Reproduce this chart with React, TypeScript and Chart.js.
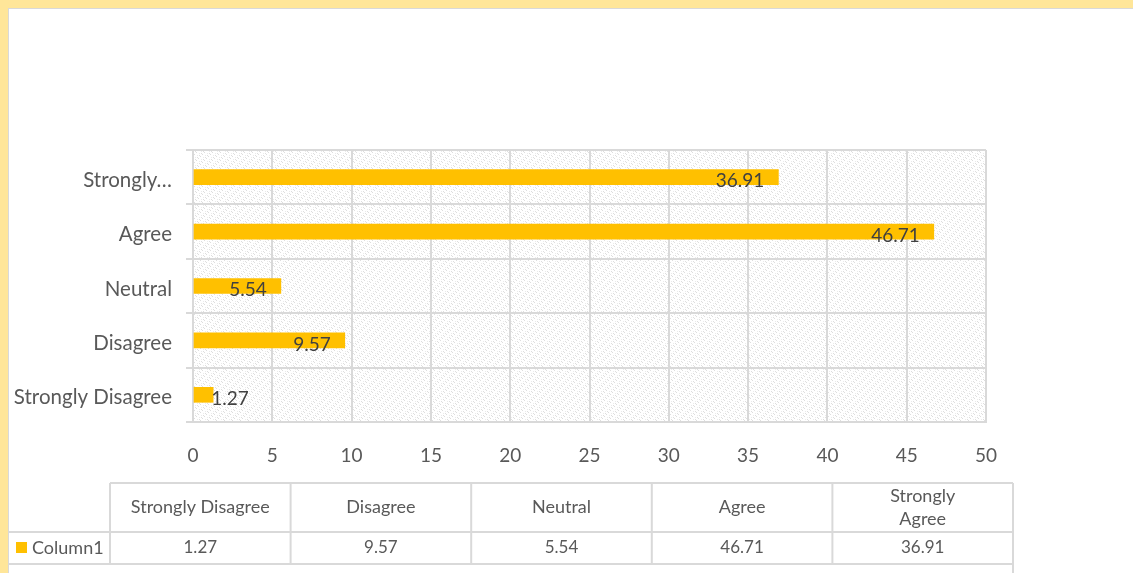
import React, { useEffect, useRef } from "react";
import { Chart, registerables } from "chart.js";

Chart.register(...registerables);

const categories = ["Strongly Disagree", "Disagree", "Neutral", "Agree", "Strongly Agree"];
const axisLabels = ["Strongly Disagree", "Disagree", "Neutral", "Agree", "Strongly…"];
const tableHeaders = [["Strongly Disagree"], ["Disagree"], ["Neutral"], ["Agree"], ["Strongly", "Agree"]];
const seriesName = "Column1";
const seriesValues = [1.27, 9.57, 5.54, 46.71, 36.91];
const valueLabels = ["1.27", "9.57", "5.54", "46.71", "36.91"];
const xTicks = [0, 5, 10, 15, 20, 25, 30, 35, 40, 45, 50];

const FONT = "Lato, 'Open Sans', sans-serif";
const BAR = "#FFC000";
const GRID = "#d9d9d9";

function makePattern(ctx: CanvasRenderingContext2D) {
  const c = document.createElement("canvas");
  c.width = 8;
  c.height = 8;
  const p = c.getContext("2d")!;
  p.fillStyle = "#ffffff";
  p.fillRect(0, 0, 8, 8);
  for (let y = 0; y < 8; y++) {
    for (let x = 0; x < 8; x++) {
      if (((x - y + 16) % 4 === 0) && ((x + y) % 8 < 4)) {
        p.fillStyle = "#dedede";
        p.fillRect(x, y, 1, 1);
      } else if (((x + y) % 8 === 6) && ((x - y + 16) % 4 === 2)) {
        p.fillStyle = "#ebebeb";
        p.fillRect(x, y, 1, 1);
      }
    }
  }
  return ctx.createPattern(c, "repeat");
}

const bgPlugin = {
  id: "plotBg",
  beforeDraw(chart: any) {
    const { ctx, chartArea } = chart;
    const pat = makePattern(ctx);
    ctx.save();
    ctx.fillStyle = pat || "#f2f2f2";
    ctx.fillRect(chartArea.left, chartArea.top, chartArea.right - chartArea.left, chartArea.bottom - chartArea.top);
    ctx.restore();
  },
};

const labelPlugin = {
  id: "valueLabels",
  afterDatasetsDraw(chart: any) {
    const { ctx } = chart;
    const meta = chart.getDatasetMeta(0);
    ctx.save();
    ctx.font = `19px ${FONT}`;
    ctx.fillStyle = "#404040";
    ctx.textBaseline = "middle";
    meta.data.forEach((bar: any, i: number) => {
      const txt = valueLabels[i];
      const w = ctx.measureText(txt).width;
      const barW = bar.x - bar.base;
      if (barW > w + 20) {
        ctx.textAlign = "right";
        ctx.fillText(txt, bar.x - 14, bar.y + 4);
      } else {
        ctx.textAlign = "left";
        ctx.fillText(txt, bar.x - 2, bar.y + 4);
      }
    });
    ctx.restore();
  },
};

const tablePlugin = {
  id: "dataTable",
  afterDraw(chart: any) {
    const { ctx } = chart;
    const left = 0;
    const firstCol = 101;
    const right = 1004;
    const top = 474;
    const mid = 523;
    const bottom = 555;
    const n = categories.length;
    const colW = (right - firstCol) / n;
    ctx.save();
    ctx.strokeStyle = GRID;
    ctx.lineWidth = 2;
    ctx.beginPath();
    ctx.moveTo(firstCol, top);
    ctx.lineTo(right, top);
    ctx.moveTo(left, mid);
    ctx.lineTo(right, mid);
    ctx.moveTo(left, bottom);
    ctx.lineTo(right, bottom);
    for (let i = 0; i <= n; i++) {
      const x = firstCol + colW * i;
      ctx.moveTo(x, top);
      ctx.lineTo(x, i === n ? chart.height : bottom);
    }
    ctx.stroke();

    ctx.fillStyle = "#595959";
    ctx.textAlign = "center";
    ctx.textBaseline = "middle";
    ctx.font = `18px ${FONT}`;
    tableHeaders.forEach((lines, i) => {
      const cx = firstCol + colW * (i + 0.5);
      if (lines.length === 1) {
        ctx.fillText(lines[0], cx, 498);
      } else {
        ctx.fillText(lines[0], cx, 487);
        ctx.fillText(lines[1], cx, 510);
      }
    });
    ctx.font = `17px ${FONT}`;
    seriesValues.forEach((v, i) => {
      const cx = firstCol + colW * (i + 0.5);
      ctx.fillText(valueLabels[i], cx, 539);
    });
    ctx.fillStyle = BAR;
    ctx.fillRect(7, 533, 11, 11);
    ctx.fillStyle = "#595959";
    ctx.textAlign = "left";
    ctx.font = `18px ${FONT}`;
    ctx.fillText(seriesName, 23, 539);
    ctx.restore();
  },
};

export default function App() {
  const ref = useRef<HTMLCanvasElement>(null);
  useEffect(() => {
    if (!ref.current) return;
    const chart = new Chart(ref.current, {
      type: "bar",
      data: {
        labels: categories,
        datasets: [
          {
            label: seriesName,
            data: seriesValues,
            backgroundColor: BAR,
            borderWidth: 0,
            barThickness: 15,
          },
        ],
      },
      options: {
        indexAxis: "y",
        animation: false,
        responsive: false,
        devicePixelRatio: 1,
        layout: { padding: { left: 0, right: 147, top: 141, bottom: 106 } },
        plugins: { legend: { display: false }, tooltip: { enabled: false } },
        scales: {
          x: {
            min: 0,
            max: 50,
            afterBuildTicks: (scale: any) => {
              scale.ticks = xTicks.map((v) => ({ value: v }));
            },
            afterFit: (scale: any) => {
              scale.height = 45;
            },
            grid: { color: GRID, lineWidth: 2, drawTicks: false },
            border: { color: GRID, width: 2 },
            ticks: {
              padding: 22,
              color: "#595959",
              font: { family: FONT, size: 19 },
            },
          },
          y: {
            reverse: true,
            afterFit: (scale: any) => {
              scale.width = 184;
            },
            grid: { color: GRID, lineWidth: 2, drawTicks: true, tickLength: 7, offset: true },
            border: { color: GRID, width: 2 },
            ticks: {
              padding: 14,
              labelOffset: 3,
              color: "#595959",
              font: { family: FONT, size: 20.5 },
              callback: (_v: any, i: number) => axisLabels[i],
            },
          },
        },
      },
      plugins: [bgPlugin, labelPlugin, tablePlugin],
    });
    return () => chart.destroy();
  }, []);

  return (
    <div style={{ position: "fixed", inset: 0, background: "#FFE699", overflow: "hidden" }}>
      <div
        style={{
          position: "absolute",
          left: 8,
          top: 8,
          width: 1125,
          height: 565,
          boxSizing: "border-box",
          background: "#ffffff",
          borderTop: "1px solid #d9d9d9",
          borderLeft: "1px solid #d9d9d9",
        }}
      >
        <canvas ref={ref} width={1124} height={564} style={{ display: "block", width: 1124, height: 564 }} />
      </div>
    </div>
  );
}
